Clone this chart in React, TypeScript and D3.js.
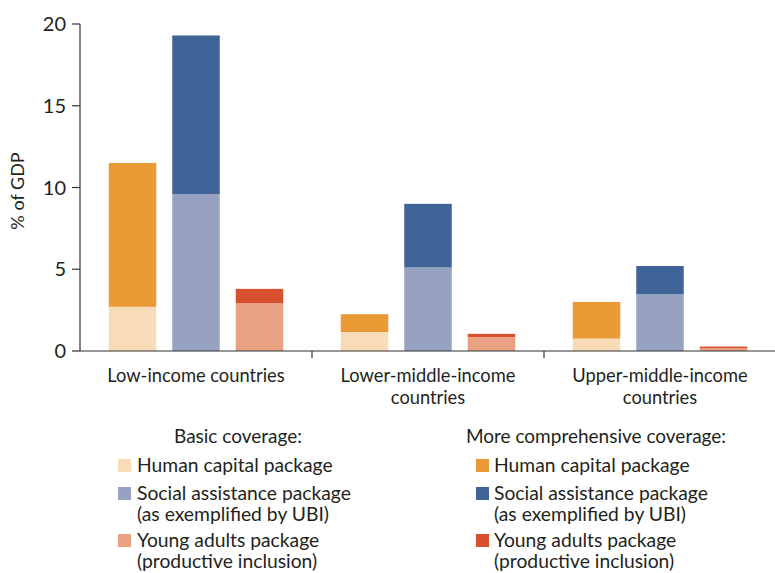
import React from "react";
import * as d3 from "d3";

const groups = ["Low-income countries", "Lower-middle-income countries", "Upper-middle-income countries"];
const groupLines = [["Low-income countries"], ["Lower-middle-income", "countries"], ["Upper-middle-income", "countries"]];
const packages = ["human", "social", "young"];
// Basic coverage values (% of GDP)
const basicHuman = [2.7, 1.15, 0.75];
const basicSocial = [9.6, 5.1, 3.45];
const basicYoung = [2.9, 0.85, 0.15];
// More comprehensive coverage totals (% of GDP)
const compHuman = [11.5, 2.25, 3.0];
const compSocial = [19.3, 9.0, 5.2];
const compYoung = [3.8, 1.05, 0.27];
const yTicks = [0, 5, 10, 15, 20];

const basicColors = ["#F8DCB7", "#97A2C3", "#E9A184"];
const compColors = ["#E99A34", "#3F6397", "#D9502E"];
const legendLabels = [
  ["Human capital package"],
  ["Social assistance package", "(as exemplified by UBI)"],
  ["Young adults package", "(productive inclusion)"],
];

const W = 775, H = 573;
const FONT = "Lato, 'Liberation Sans', sans-serif";
const TEXT = "#231f20";

export default function App() {
  const x0 = d3.scaleBand<string>().domain(groups).range([80, 776]).padding(0);
  const x1 = d3.scaleBand<string>().domain(packages).range([0, x0.bandwidth()]).paddingInner(0.252).paddingOuter(0.453);
  const y = d3.scaleLinear().domain([0, 20]).range([351, 24]);

  const basic = [basicHuman, basicSocial, basicYoung];
  const comp = [compHuman, compSocial, compYoung];

  const legendRowsY = [465, 493, 540];
  const lineGap = 21;

  return (
    <svg width={W} height={H} style={{ position: "absolute", left: 0, top: 0 }} fontFamily={FONT}>
      <rect width={W} height={H} fill="#fff" />
      {groups.map((g, gi) =>
        packages.map((p, pi) => {
          const bx = (x0(g) as number) + (x1(p) as number);
          const bw = x1.bandwidth();
          const b = basic[pi][gi];
          const c = comp[pi][gi];
          return (
            <g key={g + p}>
              <rect x={bx} width={bw} y={y(c)} height={y(b) - y(c)} fill={compColors[pi]} />
              <rect x={bx} width={bw} y={y(b)} height={y(0) - y(b)} fill={basicColors[pi]} />
            </g>
          );
        })
      )}
      {/* y axis */}
      <line x1={80} x2={80} y1={y(20)} y2={y(0)} stroke="#333" strokeWidth={1.2} />
      {yTicks.map((t) => (
        <g key={t}>
          <line x1={72} x2={80} y1={y(t)} y2={y(t)} stroke="#333" strokeWidth={1.2} />
          <text x={66} y={y(t)} dy="0.36em" textAnchor="end" fontSize={20} fill={TEXT}>
            {t}
          </text>
        </g>
      ))}
      <text transform={`translate(24,${191}) rotate(-90)`} textAnchor="middle" fontSize={18} fill={TEXT}>
        % of GDP
      </text>
      {/* x axis */}
      <line x1={80} x2={776} y1={y(0)} y2={y(0)} stroke="#333" strokeWidth={1.2} />
      {groups.map((g, gi) =>
        gi > 0 ? (
          <line key={"t" + g} x1={x0(g)} x2={x0(g)} y1={y(0)} y2={y(0) + 7} stroke="#333" strokeWidth={1.2} />
        ) : null
      )}
      {groups.map((g, gi) => (
        <text key={"l" + g} x={(x0(g) as number) + x0.bandwidth() / 2} y={382} textAnchor="middle" fontSize={18.3} fill={TEXT}>
          {groupLines[gi].map((ln, li) => (
            <tspan key={li} x={(x0(g) as number) + x0.bandwidth() / 2} y={382 + li * 22}>
              {ln}
            </tspan>
          ))}
        </text>
      ))}
      {/* legends */}
      <text x={238} y={443} textAnchor="middle" fontSize={19} fill={TEXT}>Basic coverage:</text>
      <text x={596} y={443} textAnchor="middle" fontSize={19} fill={TEXT}>More comprehensive coverage:</text>
      {legendLabels.map((lines, i) => (
        <g key={"lg" + i}>
          <rect x={118} y={legendRowsY[i] - 6} width={13} height={13} fill={basicColors[i]} />
          <rect x={476} y={legendRowsY[i] - 6} width={13} height={13} fill={compColors[i]} />
          {lines.map((ln, li) => (
            <g key={li}>
              <text x={137} y={legendRowsY[i] + li * lineGap} dy="0.35em" fontSize={19.3} fill={TEXT}>{ln}</text>
              <text x={494} y={legendRowsY[i] + li * lineGap} dy="0.35em" fontSize={19.3} fill={TEXT}>{ln}</text>
            </g>
          ))}
        </g>
      ))}
    </svg>
  );
}
